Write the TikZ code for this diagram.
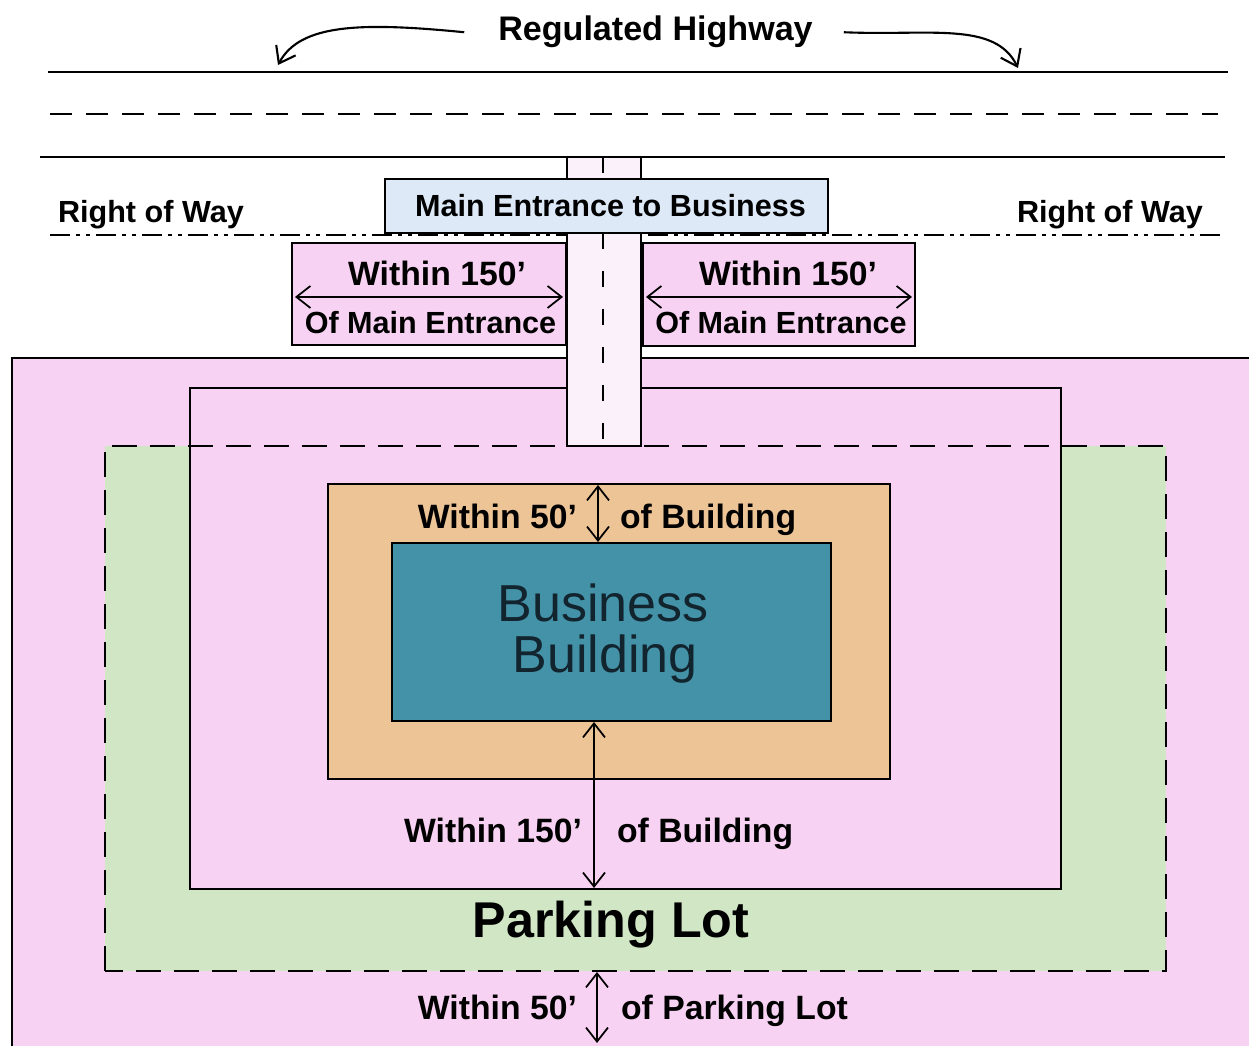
\documentclass[tikz,border=0pt]{standalone}
\usepackage{fontspec}
\setmainfont{Liberation Sans}
\usetikzlibrary{arrows.meta}

\definecolor{lotpink}{RGB}{248,210,243}
\definecolor{lotgreen}{RGB}{208,230,196}
\definecolor{bldgtan}{RGB}{236,196,150}
\definecolor{bldgteal}{RGB}{68,146,168}
\definecolor{signblue}{RGB}{221,233,247}
\definecolor{drivewhite}{RGB}{251,241,250}
\definecolor{bldgtext}{RGB}{18,36,46}

\begin{document}
\begin{tikzpicture}[
    line width=0.6pt,
    lbl/.style={font=\bfseries\fontsize{9.6}{11}\selectfont, inner sep=0pt},
    smalllbl/.style={font=\bfseries\fontsize{8.7}{10}\selectfont, inner sep=0pt},
    dimarrow/.style={{Straight Barb[length=1.4mm,width=2.2mm]}-{Straight Barb[length=1.4mm,width=2.2mm]}, line width=0.5pt},
    hwyarrow/.style={-{Straight Barb[length=1.5mm,width=2.2mm]}, line width=0.6pt}
]
    \useasboundingbox (0,0) rectangle (12.49,10.46);

    % Terreno
    \fill[lotpink] (0.12,0) rectangle (12.49,6.88);
    \draw (0.12,0) -- (0.12,6.88) -- (12.49,6.88);
    \fill[lotgreen] (1.05,0.75) rectangle (11.66,6.00);
    \draw[fill=lotpink] (1.90,1.57) rectangle (10.61,6.58);
    \draw[dash pattern=on 2.5mm off 1.3mm] (1.05,0.75) rectangle (11.66,6.00);
    \draw[fill=bldgtan] (3.28,2.67) rectangle (8.90,5.62);
    \draw[fill=bldgteal] (3.92,3.25) rectangle (8.31,5.03);

    % Carretera
    \draw (0.48,9.74) -- (12.28,9.74);
    \draw[dash pattern=on 2.2mm off 1.4mm] (0.50,9.32) -- (12.18,9.32);
    \draw (0.40,8.89) -- (12.25,8.89);
    \draw[line width=0.6pt, dash pattern=on 2.0mm off 0.6mm on 0.4mm off 0.6mm on 0.4mm off 0.6mm]
        (0.50,8.11) -- (12.20,8.11);

    % Entrada
    \draw[fill=drivewhite] (5.67,6.00) rectangle (6.41,8.89);
    \draw[line width=0.5pt, dash pattern=on 1.6mm off 2.2mm] (6.03,8.89) -- (6.03,6.02);
    \node[draw, fill=signblue, minimum width=4.43cm, minimum height=0.54cm, smalllbl]
        (entrance) at (6.065,8.40) {\hspace{0.08cm}Main Entrance to Business};
    \draw[fill=lotpink] (2.92,7.01) rectangle (5.66,8.03);
    \draw[fill=lotpink] (6.43,7.00) rectangle (9.15,8.03);

    % Etiquetas
    \node[lbl, font=\bfseries\fontsize{9.7}{11}\selectfont, anchor=base] (hwy) at (6.555,10.05) {Regulated Highway};
    \node[smalllbl, anchor=base west] (rowleft) at (0.57,8.23) {Right of Way};
    \node[smalllbl, anchor=base west] (rowright) at (10.16,8.23) {Right of Way};
    \node[lbl, anchor=base] (within150l) at (4.37,7.60) {Within 150’};
    \node[smalllbl, anchor=base] (ofmainl) at (4.305,7.12) {Of Main Entrance};
    \node[lbl, anchor=base] (within150r) at (7.88,7.60) {Within 150’};
    \node[smalllbl, anchor=base] (ofmainr) at (7.81,7.12) {Of Main Entrance};
    \node[lbl, anchor=base east] (within50b) at (5.78,5.17) {Within 50’};
    \node[lbl, anchor=base west] (ofbldg50) at (6.19,5.17) {of Building};
    \node[font=\fontsize{14.8}{16}\selectfont, text=bldgtext, anchor=base, inner sep=0pt] (bldgname) at (6.03,4.24) {Business};
    \node[font=\fontsize{14.8}{16}\selectfont, text=bldgtext, anchor=base, inner sep=0pt] (bldgname2) at (6.05,3.73) {Building};
    \node[lbl, anchor=base east] (within150b) at (5.83,2.03) {Within 150’};
    \node[lbl, anchor=base west] (ofbldg150) at (6.16,2.03) {of Building};
    \node[lbl, font=\bfseries\fontsize{14.3}{16}\selectfont, anchor=base] (parking) at (6.11,1.08) {Parking Lot};
    \node[lbl, anchor=base east] (within50p) at (5.78,0.26) {Within 50’};
    \node[lbl, anchor=base west] (oflot) at (6.20,0.26) {of Parking Lot};

    % Flechas
    \coordinate (hwyL) at (2.78,9.81);
    \coordinate (hwyR) at (10.18,9.78);
    \draw[hwyarrow] ([xshift=-3.3mm]hwy.west) .. controls (3.6,10.24) and (3.0,10.22) .. (hwyL);
    \draw[hwyarrow] ([xshift=3.0mm]hwy.east) .. controls (9.3,10.10) and (9.95,10.25) .. (hwyR);

    \coordinate (mainLa) at (2.95,7.49);
    \coordinate (mainLb) at (5.63,7.49);
    \coordinate (mainRa) at (6.46,7.49);
    \coordinate (mainRb) at (9.12,7.49);
    \draw[dimarrow] (mainLa) -- (mainLb);
    \draw[dimarrow] (mainRa) -- (mainRb);

    \coordinate (b50a) at (5.98,5.61);
    \coordinate (b50b) at (5.98,5.04);
    \draw[dimarrow] (b50a) -- (b50b);

    \coordinate (b150a) at (5.94,3.24);
    \coordinate (b150b) at (5.94,1.58);
    \draw[dimarrow] (b150a) -- (b150b);

    \coordinate (p50a) at (5.97,0.74);
    \coordinate (p50b) at (5.97,0.03);
    \draw[dimarrow] (p50a) -- (p50b);
\end{tikzpicture}
\end{document}
